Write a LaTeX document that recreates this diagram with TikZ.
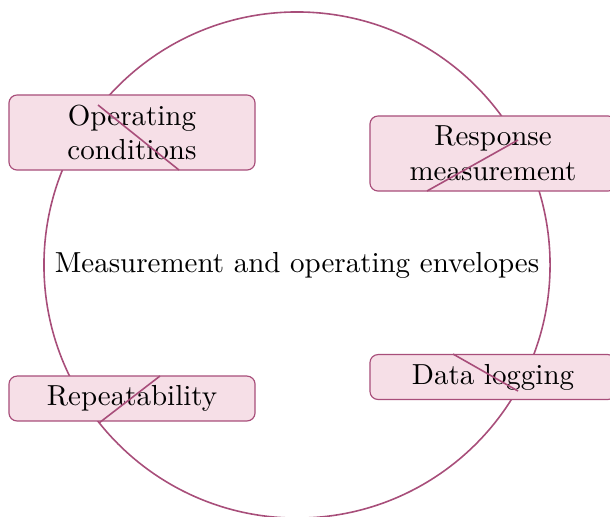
\documentclass[tikz,border=0pt]{standalone}
\usetikzlibrary{calc}
\definecolor{edgec}{RGB}{168,78,122}
\definecolor{fillc}{RGB}{246,223,231}
\tikzset{
  envelope/.style={circle,draw=edgec,line width=0.55pt,minimum size=174.6pt,inner sep=0pt},
  factor/.style={draw=edgec,fill=fillc,line width=0.4pt,rounded corners=2.8pt,minimum width=84.9pt,align=center,inner sep=2pt},
  slash/.style={edgec,line width=0.55pt}
}
\begin{document}
\begin{tikzpicture}[x=0.345pt,y=-0.345pt]
\useasboundingbox (0,0) rectangle (610,516);
\node[envelope] (env) at (297,265) {Measurement and operating envelopes};
\node[factor,minimum height=25.9pt] (op) at (132,132.5) {Operating\\conditions};
\node[factor,minimum height=25.9pt] (resp) at (493,153.5) {Response\\measurement};
\node[factor,minimum height=15.5pt] (rep) at (132,398.5) {Repeatability};
\node[factor,minimum height=15.5pt] (log) at (493,377) {Data logging};
\coordinate (a1) at (98,105); \coordinate (a2) at (179,170);
\coordinate (b1) at (427,191); \coordinate (b2) at (518,140);
\coordinate (c1) at (160,376); \coordinate (c2) at (99,423);
\coordinate (d1) at (453,354); \coordinate (d2) at (518,391);
\draw[slash] (a1) -- (a2);
\draw[slash] (b1) -- (b2);
\draw[slash] (c1) -- (c2);
\draw[slash] (d1) -- (d2);
\end{tikzpicture}
\end{document}
